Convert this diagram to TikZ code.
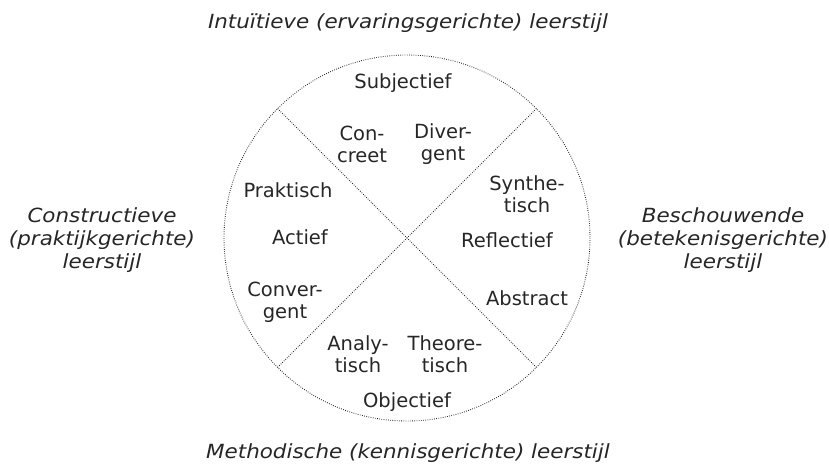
\documentclass[tikz,border=0pt]{standalone}
\usepackage{fontspec}
\setmainfont{DejaVu Sans}
\newfontfamily\ttlfont{DejaVu Sans}[FakeStretch=1.1]
\begin{document}
\begin{tikzpicture}[x=1pt,y=-1pt,
  lbl/.style={font=\fontsize{19.5}{22}\selectfont, text=black!85, align=center, inner sep=0pt},
  ttl/.style={font=\ttlfont\fontsize{19.5}{23}\selectfont\itshape, text=black!85, align=center, inner sep=0pt},
  dots/.style={line width=0.9pt, dash pattern=on 0.7pt off 1.5pt, black!90}]
\useasboundingbox (0,0) rectangle (829,465);
\coordinate (c) at (407,238);
\draw[dots] (c) circle[radius=183];
\path (c) ++(-129.4,-129.4) coordinate (ul) (c) ++(129.4,-129.4) coordinate (ur)
      (c) ++(-129.4,129.4) coordinate (ll) (c) ++(129.4,129.4) coordinate (lr);
\draw[dots] (ul) -- (lr);
\draw[dots] (ur) -- (ll);
\node[lbl] (subj) at (403,83) {Subjectief};
\node[lbl] (conc) at (362,144) {Con-\\creet};
\node[lbl] (div) at (443,144) {Diver-\\gent};
\node[lbl] (prak) at (288,190) {Praktisch};
\node[lbl] (act) at (300,237) {Actief};
\node[lbl] (syn) at (527,194) {Synthe-\\tisch};
\node[lbl] (refl) at (507,240) {Reflectief};
\node[lbl] (conv) at (285,302) {Conver-\\gent};
\node[lbl] (abs) at (527,298) {Abstract};
\node[lbl] (ana) at (358,354) {Analy-\\tisch};
\node[lbl] (theo) at (445,354) {Theore-\\tisch};
\node[lbl] (obj) at (407,402) {Objectief};
\node[ttl] (top) at (408,23) {Intuïtieve (ervaringsgerichte) leerstijl};
\node[ttl] (bot) at (408,453) {Methodische (kennisgerichte) leerstijl};
\node[ttl] (left) at (102,240) {Constructieve\\(praktijkgerichte)\\leerstijl};
\node[ttl] (right) at (723,240) {Beschouwende\\(betekenisgerichte)\\leerstijl};
\end{tikzpicture}
\end{document}
